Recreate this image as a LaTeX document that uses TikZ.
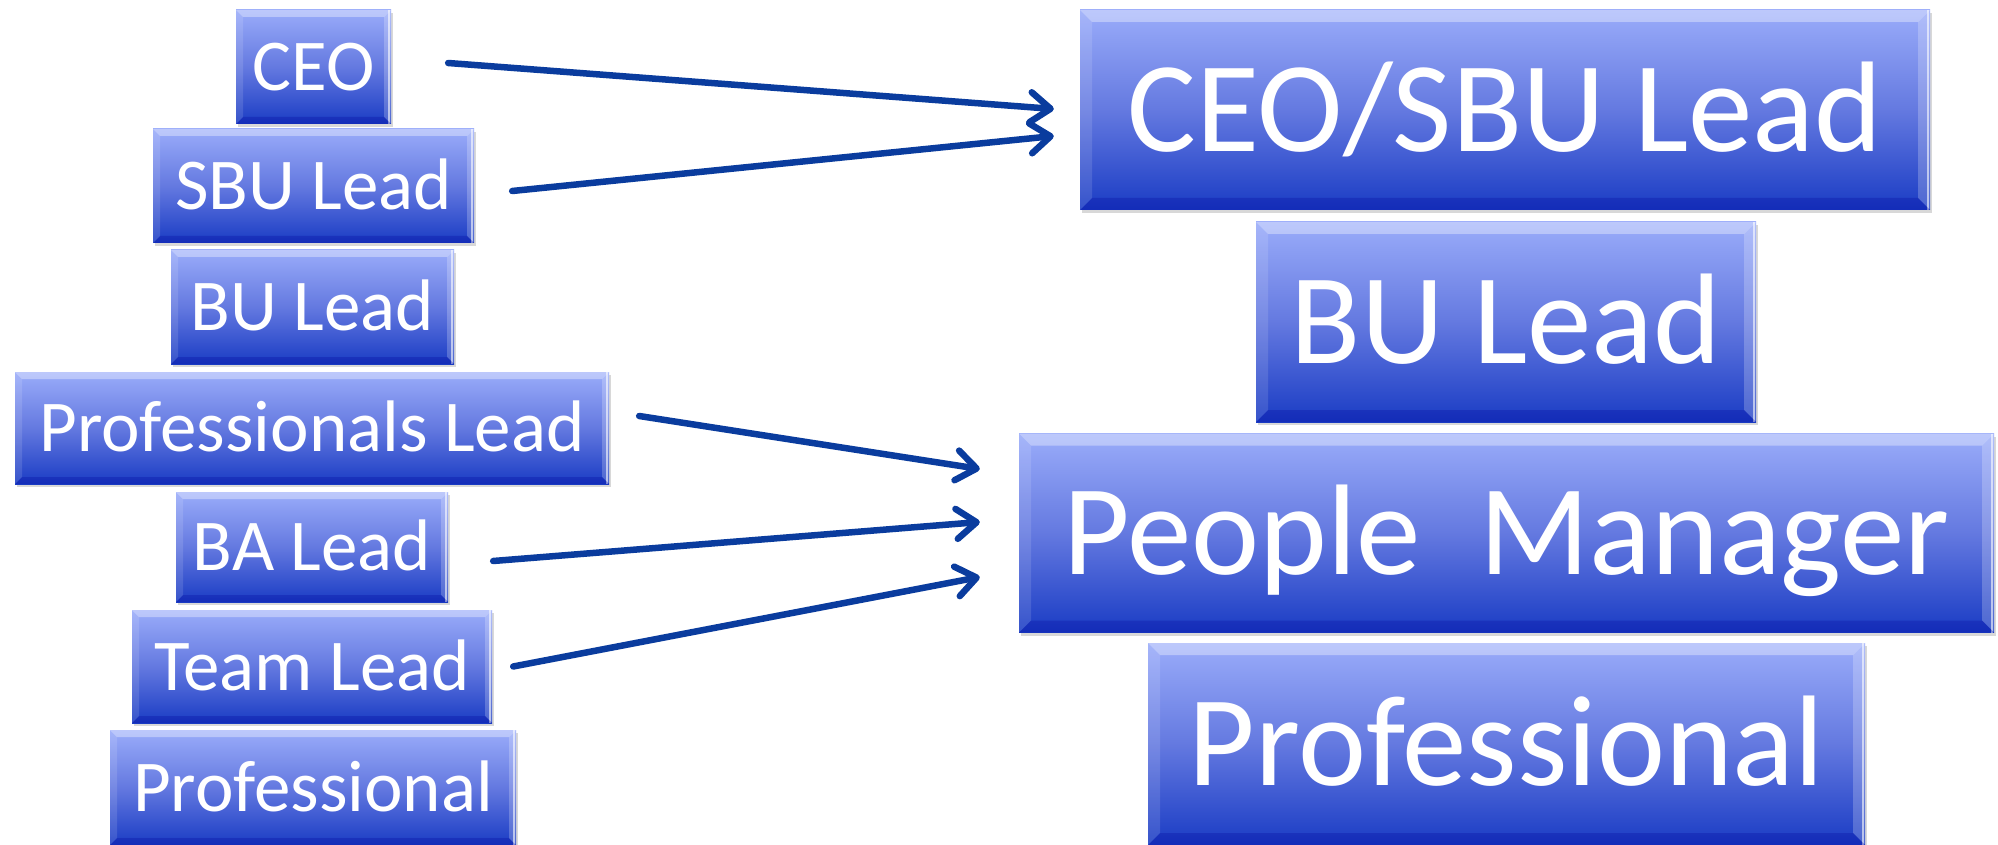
\documentclass[tikz,border=0pt]{standalone}
\usepackage{fontspec}
\setmainfont{Carlito}
\usetikzlibrary{arrows.meta,shadows}
\definecolor{tiletop}{HTML}{9AACFA}
\definecolor{tilemid}{HTML}{6479E0}
\definecolor{tilebot}{HTML}{1A3CC4}
\definecolor{arrowblue}{HTML}{0A3C9E}
\tikzset{
  tile/.style={rectangle, inner sep=0pt, text=white,
    top color=tiletop, bottom color=tilebot, middle color=tilemid,
    drop shadow={shadow xshift=2pt, shadow yshift=-3pt, opacity=0.25, fill=black!60},
    path picture={
      % top bevel
      \fill[white, opacity=0.35] (path picture bounding box.north west) -- (path picture bounding box.north east)
        -- ([xshift=-#1, yshift=-#1]path picture bounding box.north east) -- ([xshift=#1, yshift=-#1]path picture bounding box.north west) -- cycle;
      % left bevel
      \fill[white, opacity=0.12] (path picture bounding box.north west) -- ([xshift=#1, yshift=-#1]path picture bounding box.north west)
        -- ([xshift=#1, yshift=#1]path picture bounding box.south west) -- (path picture bounding box.south west) -- cycle;
      % right bevel
      \fill[white, opacity=0.22] (path picture bounding box.north east) -- ([xshift=-#1, yshift=-#1]path picture bounding box.north east)
        -- ([xshift=-#1, yshift=#1]path picture bounding box.south east) -- (path picture bounding box.south east) -- cycle;
      \draw[white, opacity=0.6, line width=2.5pt] ([xshift=-2pt]path picture bounding box.north east) -- ([xshift=-2pt]path picture bounding box.south east);
      % bottom bevel
      \fill[blue!60!black, opacity=0.25] (path picture bounding box.south west) -- (path picture bounding box.south east)
        -- ([xshift=-#1, yshift=#1]path picture bounding box.south east) -- ([xshift=#1, yshift=#1]path picture bounding box.south west) -- cycle;
    }},
  small/.style={tile=7pt, font=\fontsize{73}{80}\selectfont, text height=47pt, text depth=0pt},
  big/.style={tile=12pt, font=\fontsize{129}{140}\selectfont, text height=83pt, text depth=0pt},
  conn/.style={draw=arrowblue, line width=6.5pt, line cap=round,
    -{Straight Barb[length=20pt, width=30pt, line width=6.5pt, round]}}
}
\begin{document}
\begin{tikzpicture}[x=1pt, y=-1pt]
\fill[white] (0,0) rectangle (1998,845);
\useasboundingbox (0,0) rectangle (1998,845);
% left column
\node[small, minimum width=155pt, minimum height=114pt] (ceo) at (313.5,67) {CEO};
\node[small, minimum width=321pt, minimum height=114pt] (sbu) at (313.5,186) {SBU Lead};
\node[small, minimum width=283pt, minimum height=114pt] (bu) at (312.5,307) {BU Lead};
\node[small, minimum width=594pt, minimum height=112pt] (plead) at (312,428) {Professionals Lead};
\node[small, minimum width=272pt, minimum height=110pt] (ba) at (312,547) {BA Lead};
\node[small, minimum width=360pt, minimum height=113pt] (team) at (312,666.5) {Team Lead};
\node[small, minimum width=406pt, minimum height=115pt] (prof) at (313,787.5) {Professional};
% right column
\node[big, minimum width=850pt, minimum height=200pt] (ceosbu) at (1505,110) {CEO/SBU Lead};
\node[big, minimum width=500pt, minimum height=200pt] (bur) at (1506,322) {BU Lead};
\node[big, minimum width=975pt, minimum height=199pt] (pm) at (1506.5,533) {People\ \ Manager};
\node[big, minimum width=717pt, minimum height=202pt] (profr) at (1506.5,744) {Professional};
% connectors
\draw[conn] ([xshift=57pt, yshift=4pt]ceo.east) -- ([xshift=-26pt, yshift=1pt]ceosbu.west);
\draw[conn] ([xshift=38pt, yshift=-5pt]sbu.east) -- ([xshift=-26pt, yshift=-26pt]ceosbu.west);
\draw[conn] ([xshift=30pt, yshift=12pt]plead.east) -- ([xshift=-39pt, yshift=64pt]pm.west);
\draw[conn] ([xshift=45pt, yshift=-14pt]ba.east) -- ([xshift=-39pt, yshift=11pt]pm.west);
\draw[conn] ([xshift=21pt, yshift=0pt]team.east) -- ([xshift=-39pt, yshift=-44pt]pm.west);
\end{tikzpicture}
\end{document}
